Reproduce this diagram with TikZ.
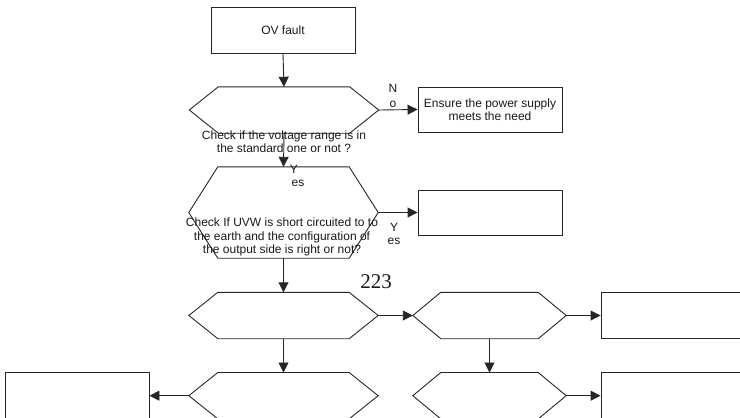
\documentclass[tikz,border=0pt]{standalone}
\usepackage{fontspec}
\setmainfont{Liberation Sans}
\newfontfamily\pagenumfont{Liberation Serif}
\usetikzlibrary{arrows.meta}
\newcommand\hexoutline[2]{%
  \draw[edge] (#1.west) -- ([xshift=#2]#1.north west) -- ([xshift=-#2]#1.north east)
    -- (#1.east) -- ([xshift=-#2]#1.south east) -- ([xshift=#2]#1.south west) -- cycle;}
\begin{document}
\begin{tikzpicture}[x=1pt,y=-1pt,
  edge/.style={draw=black!85, line width=0.9pt},
  arr/.style={edge, -{Triangle[length=10pt,width=10pt]}},
  txt/.style={font=\fontsize{12}{13.3}\selectfont, align=center, inner sep=0pt, text=black!90},
  boxnode/.style={edge, txt, minimum width=144pt, minimum height=45pt},
  hexnode/.style={inner sep=0pt, minimum width=189pt, minimum height=46pt},
  hexsmall/.style={inner sep=0pt, minimum width=153pt, minimum height=46pt}
]
\useasboundingbox (0,0) rectangle (740,418);
\clip (0,0) rectangle (740,418);

% nodes
\node[boxnode, minimum height=46pt] (ov) at (283,30) {OV fault};
\node[hexnode] (h1) at (284,110) {};
\hexoutline{h1}{29pt}
\node[txt] (t1) at (284,141.5) {Check if the voltage range is in\\the standard one or not ?};
\node[boxnode] (ens) at (490,109.5) {Ensure the power supply\\meets the need};

\node[hexnode, minimum height=91pt] (h2) at (283.5,212.5) {};
\hexoutline{h2}{29pt}
\node[txt] (t2) at (282,237) {Check If UVW is short circuited to to\\the earth and the configuration of\\the output side is right or not?};
\node[boxnode] (b2) at (490,212.5) {};

\node[hexnode] (h3) at (283.5,315.5) {};
\hexoutline{h3}{29pt}
\node[hexsmall] (h4) at (489.5,315.5) {};
\hexoutline{h4}{28pt}
\node[boxnode, minimum height=46pt] (b3) at (673,315.5) {};

\node[hexnode] (h5) at (283.5,395.7) {};
\hexoutline{h5}{29pt}
\node[hexsmall] (h6) at (489.5,395.7) {};
\hexoutline{h6}{28pt}
\node[boxnode, minimum height=46pt] (bl) at (77,395.7) {};
\node[boxnode, minimum height=46pt] (b6) at (673,395.7) {};

% labels
\node[txt] (no1) at (393,88) {N};
\node[txt] (no2) at (393,104) {o};
\node[txt] (y1a) at (294,169) {Y};
\node[txt] (y1b) at (298,183) {es};
\node[txt] (y2a) at (394,227) {Y};
\node[txt] (y2b) at (394,241) {es};
\node[inner sep=0pt, font=\pagenumfont\fontsize{21}{21}\selectfont, text=black!90] (pg) at (376,282) {223};

% connectors
\draw[arr] (ov.south) -- (h1.north);
\draw[arr] (h1.east) -- (ens.west);
\draw[arr] (h1.south) -- (h2.north);
\draw[arr] (h2.east) -- (b2.west);
\draw[arr] (h2.south) -- (h3.north);
\draw[arr] (h3.east) -- (h4.west);
\draw[arr] (h4.east) -- (b3.west);
\draw[arr] (h3.south) -- (h5.north);
\draw[arr] (h4.south) -- (h6.north);
\draw[arr] (h5.west) -- (bl.east);
\draw[arr] (h6.east) -- (b6.west);
\end{tikzpicture}
\end{document}
